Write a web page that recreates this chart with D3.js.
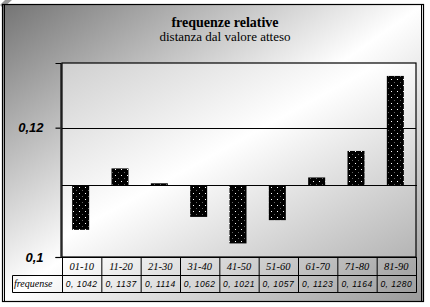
<!DOCTYPE html>
<html><head><meta charset="utf-8">
<script src="https://cdn.jsdelivr.net/npm/d3@7/dist/d3.min.js"></script>
<style>html,body{margin:0;padding:0;background:#fff;}svg{display:block;}</style>
</head><body><svg id="c" width="430" height="307"></svg>
<script>
const categories = ["01-10","11-20","21-30","31-40","41-50","51-60","61-70","71-80","81-90"];
const values = [0.1042,0.1137,0.1114,0.1062,0.1021,0.1057,0.1123,0.1164,0.1280];
const expected = 0.1111;
const yTicks = [0.10, 0.12];
const gridValues = [0.12];
const rowLabel = "frequense";
const title = "frequenze relative";
const subtitle = "distanza dal valore atteso";

const svg = d3.select("#c");
const defs = svg.append("defs");
const g1 = defs.append("linearGradient").attr("id","bg").attr("x1",0).attr("y1",0).attr("x2",1).attr("y2",1);
g1.append("stop").attr("offset",0).attr("stop-color","#747474");
g1.append("stop").attr("offset",0.5).attr("stop-color","#ffffff");
g1.append("stop").attr("offset",1).attr("stop-color","#9a9a9a");
const g2 = defs.append("linearGradient").attr("id","pbg").attr("x1",0).attr("y1",0).attr("x2",1).attr("y2",1);
g2.append("stop").attr("offset",0).attr("stop-color","#cfcfcf");
g2.append("stop").attr("offset",0.45).attr("stop-color","#ffffff");
g2.append("stop").attr("offset",1).attr("stop-color","#b4b4b4");
const pat = defs.append("pattern").attr("id","dots").attr("patternUnits","userSpaceOnUse")
  .attr("width",6).attr("height",6);
pat.append("rect").attr("width",6).attr("height",6).attr("fill","#000");
pat.append("rect").attr("x",1).attr("y",1).attr("width",1).attr("height",1).attr("fill","#fff");
pat.append("rect").attr("x",4).attr("y",4).attr("width",1).attr("height",1).attr("fill","#666");

// outer frame
svg.append("polygon").attr("points","0,5 5,0 12,0 3,8").attr("fill","#999");
svg.append("rect").attr("x",2.5).attr("y",4.5).attr("width",421).attr("height",297)
  .attr("fill","url(#bg)").attr("stroke","#000").attr("stroke-width",1.2);
svg.append("line").attr("x1",4.5).attr("x2",4.5).attr("y1",4.5).attr("y2",301.5).attr("stroke","#000");
svg.append("line").attr("x1",421.5).attr("x2",421.5).attr("y1",4.5).attr("y2",301.5).attr("stroke","#000");

const L = 62, R = 416, T = 63, B = 257;
const x = d3.scaleBand().domain(categories).range([L, R]);
const y = d3.scaleLinear().domain([0.10, 0.13]).range([B, T]);

svg.append("rect").attr("x",L).attr("y",T).attr("width",R-L).attr("height",B-T)
  .attr("fill","url(#pbg)").attr("stroke","#000").attr("stroke-width",1.2);

// gridlines
svg.selectAll("line.grid").data(gridValues).enter().append("line")
  .attr("x1",L).attr("x2",R).attr("y1",d=>Math.round(y(d))+0.5).attr("y2",d=>Math.round(y(d))+0.5)
  .attr("stroke","#000").attr("stroke-width",1.2);

// y axis
const fmt = d => d3.format(".2~f")(d).replace(".", ",");
const yAxis = d3.axisLeft(y).tickValues(yTicks).tickSize(5).tickPadding(12).tickFormat(fmt);
const ya = svg.append("g").attr("transform",`translate(${L-1.5},0)`).call(yAxis);
ya.select(".domain").attr("stroke","#000").attr("stroke-width",1.2);
ya.selectAll(".tick line").attr("stroke","#000").attr("stroke-width",1.2);
ya.selectAll(".tick text").attr("fill","#000").style("font-family","'Liberation Sans',Arial,sans-serif")
  .style("font-size","13px").style("font-weight","bold").style("font-style","italic");

// bars
const bw = 17;
svg.selectAll("rect.bar").data(values).enter().append("rect")
  .attr("x",(d,i)=>x(categories[i]) + x.bandwidth()/2 - bw/2 - 1)
  .attr("y",d=>Math.min(y(d), y(expected)))
  .attr("width",bw)
  .attr("height",d=>Math.abs(y(d)-y(expected)))
  .attr("fill","url(#dots)");

// baseline
svg.append("line").attr("x1",L).attr("x2",R+1).attr("y1",Math.round(y(expected))+0.5).attr("y2",Math.round(y(expected))+0.5)
  .attr("stroke","#000").attr("stroke-width",1.2);

// x axis line
svg.append("line").attr("x1",L-5).attr("x2",R).attr("y1",B+0.5).attr("y2",B+0.5).attr("stroke","#000").attr("stroke-width",1.2);

// data table
const r1 = 275.5, r2 = 292.5, tl = 12.5;
const tab = svg.append("g").attr("stroke","#000").attr("stroke-width",1);
tab.selectAll("line.v").data(categories.concat(["end"])).enter().append("line")
  .attr("x1",(d,i)=> (i<categories.length? x(d) : R) + 0.5)
  .attr("x2",(d,i)=> (i<categories.length? x(d) : R) + 0.5)
  .attr("y1",B).attr("y2",r2);
tab.append("line").attr("x1",tl).attr("x2",R+0.5).attr("y1",r1).attr("y2",r1);
tab.append("line").attr("x1",tl).attr("x2",R+0.5).attr("y1",r2).attr("y2",r2);
tab.append("line").attr("x1",tl).attr("x2",tl).attr("y1",r1).attr("y2",r2);

svg.selectAll("text.cat").data(categories).enter().append("text")
  .attr("x",d=>x(d)+x.bandwidth()/2).attr("y",270).attr("text-anchor","middle")
  .style("font-family","'Liberation Serif','Times New Roman',serif").style("font-size","10.5px").style("font-style","italic")
  .text(d=>d);
svg.selectAll("text.val").data(values).enter().append("text")
  .attr("x",(d,i)=>x(categories[i])+x.bandwidth()/2).attr("y",287).attr("text-anchor","middle")
  .style("font-family","'Liberation Sans',Arial,sans-serif").style("font-size","8.5px").style("font-style","italic")
  .style("letter-spacing","0.5px")
  .text(d=>d3.format(".4f")(d).replace(".", ", "));
svg.append("text").attr("x",14).attr("y",287)
  .style("font-family","'Liberation Serif','Times New Roman',serif").style("font-size","10px").style("font-style","italic")
  .text(rowLabel);

// titles
svg.append("text").attr("x",225).attr("y",27).attr("text-anchor","middle")
  .style("font-family","'Liberation Serif','Times New Roman',serif").style("font-size","14px").style("font-weight","bold")
  .text(title);
svg.append("text").attr("x",225).attr("y",41).attr("text-anchor","middle")
  .style("font-family","'Liberation Serif','Times New Roman',serif").style("font-size","13px")
  .text(subtitle);
</script></body></html>
